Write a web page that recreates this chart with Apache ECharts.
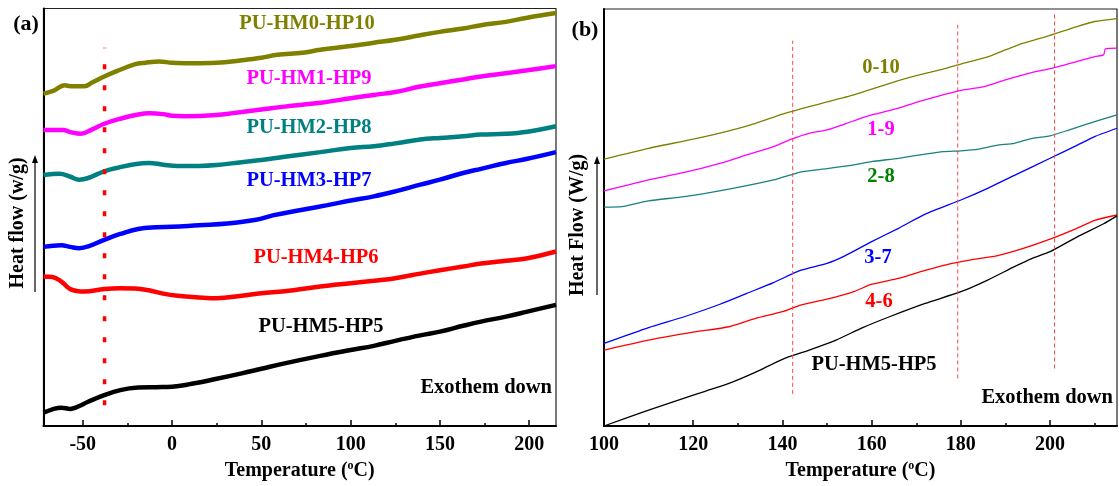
<!DOCTYPE html>
<html><head><meta charset="utf-8">
<script src="https://cdn.jsdelivr.net/npm/echarts@6/dist/echarts.min.js"></script>
<style>html,body{margin:0;padding:0;background:#fff}#c{width:1119px;height:486px}</style>
</head><body><div id="c"></div>
<script>
// ---------- data ----------
const namesA = ['PU-HM0-HP10','PU-HM1-HP9','PU-HM2-HP8','PU-HM3-HP7','PU-HM4-HP6','PU-HM5-HP5'];
const namesB = ['0-10','1-9','2-8','3-7','4-6','PU-HM5-HP5'];
const xTicksA = [-50,0,50,100,150,200];
const xMinorA = [-25,25,75,125,175];
const xTicksB = [100,120,140,160,180,200];
const xMinorB = [110,130,150,170,190,210];

// panel (a): [temperature, heat flow (arb.)]
const a_HM0 = [[-72,79.6],[-67,80.2],[-60,81.6],[-57,81.4],[-49,81.4],[-45,82.2],[-38,83.7],[-31,85.0],[-21,86.6],[-15,87.0],[-7,87.3],[0,87.0],[11,86.9],[25,87.0],[39,87.6],[50,88.2],[59,88.9],[73,89.4],[83,90.1],[100,91.0],[113,91.8],[125,92.5],[139,93.6],[150,94.4],[163,95.2],[173,96.0],[187,96.8],[199,97.8],[215,98.9]];
const a_HM1 = [[-72,70.9],[-61,70.9],[-57,70.4],[-51,70.0],[-45,71.0],[-38,72.4],[-29,73.6],[-19,74.6],[-13,74.9],[-5,74.7],[0,74.3],[7,74.2],[25,74.5],[39,75.2],[50,75.8],[63,76.5],[83,77.4],[100,78.5],[113,79.3],[125,80.0],[139,81.3],[150,82.1],[163,83.0],[173,83.7],[187,84.5],[199,85.2],[215,86.2]];
const a_HM2 = [[-72,60.1],[-63,60.4],[-57,59.7],[-52,59.0],[-47,59.4],[-38,61.0],[-29,62.0],[-21,62.7],[-13,63.0],[-5,62.6],[3,62.3],[15,62.3],[25,62.5],[39,63.2],[50,63.7],[63,64.5],[83,65.6],[100,66.6],[113,67.0],[125,67.7],[139,68.6],[150,69.0],[163,69.4],[173,69.8],[187,70.0],[199,70.5],[215,71.8]];
const a_HM3 = [[-72,42.9],[-62,43.3],[-57,42.9],[-52,42.6],[-47,43.0],[-38,44.6],[-29,46.0],[-19,47.2],[-9,47.6],[0,47.7],[15,48.1],[31,48.5],[47,49.4],[57,50.5],[73,51.8],[87,52.9],[100,54.0],[113,55.0],[125,56.2],[139,57.8],[150,59.0],[163,60.6],[173,61.6],[187,63.0],[199,64.0],[215,65.6]];
const a_HM4 = [[-72,35.8],[-67,35.7],[-62,34.6],[-57,32.8],[-49,32.2],[-38,32.8],[-29,33.0],[-19,32.9],[-13,32.5],[-5,31.7],[3,31.2],[15,30.8],[25,30.6],[39,31.2],[50,31.8],[63,32.3],[83,33.4],[100,34.2],[113,34.8],[125,35.4],[139,36.5],[150,37.3],[163,38.2],[173,38.9],[187,39.6],[199,40.2],[215,41.8]];
const a_HM5 = [[-72,3.2],[-67,4.0],[-62,4.4],[-57,4.1],[-54,4.4],[-47,5.8],[-38,7.4],[-29,8.6],[-19,9.2],[-9,9.3],[0,9.4],[11,10.1],[25,11.3],[39,12.6],[50,13.7],[63,15.0],[83,16.8],[100,18.2],[113,19.2],[125,20.4],[139,21.7],[150,22.6],[163,24.0],[173,25.0],[187,26.2],[199,27.4],[215,29.0]];

// panel (b)
const b_010 = [[100,64.0],[110,66.6],[120,68.8],[128,70.8],[134,72.6],[140,74.8],[146,76.6],[150,77.7],[156,79.4],[160,80.8],[166,82.8],[170,84.0],[176,85.6],[180,86.8],[186,88.5],[190,90.2],[194,91.8],[200,93.7],[206,95.8],[210,97.0],[215,97.7]];
const b_19 = [[100,56.4],[110,59.0],[118,60.8],[126,63.0],[132,65.0],[138,67.0],[142,68.8],[146,70.2],[150,71.0],[156,73.2],[160,74.6],[166,76.2],[170,77.6],[176,79.4],[180,80.5],[185,81.3],[190,83.0],[196,84.8],[200,85.7],[206,87.4],[210,88.6],[212,89.0],[212.4,90.4],[215,90.6]];
const b_28 = [[100,52.5],[104,52.6],[110,54.0],[118,55.0],[128,56.8],[138,59.0],[144,60.9],[150,61.7],[156,62.6],[160,63.4],[166,64.2],[172,65.2],[176,65.8],[180,66.0],[184,66.4],[188,67.3],[192,67.8],[196,69.0],[200,69.6],[204,70.9],[210,73.0],[215,74.6]];
const b_37 = [[100,19.8],[110,23.6],[118,26.2],[126,29.2],[132,31.8],[138,34.4],[144,37.3],[150,39.0],[154,40.8],[160,44.2],[166,47.4],[172,50.8],[180,54.2],[186,57.0],[192,60.1],[200,64.2],[206,67.3],[210,69.4],[215,71.4]];
const b_46 = [[100,18.2],[110,20.6],[120,22.5],[128,23.8],[134,25.8],[140,27.4],[144,29.0],[150,30.4],[156,32.2],[160,34.0],[166,35.4],[172,37.3],[178,39.0],[182,39.8],[188,40.8],[194,42.6],[200,44.8],[206,47.4],[210,49.3],[215,50.6]];
const b_55 = [[100,0.0],[110,3.8],[120,7.4],[128,10.2],[134,12.9],[140,16.0],[146,18.2],[152,20.6],[158,23.6],[164,26.2],[172,29.4],[180,32.2],[186,35.0],[192,38.2],[196,40.2],[200,41.8],[206,45.3],[212,48.5],[215,50.4]];

// guide lines
const guideA = [-37.8];
const guideALow = [5.0];
const guideAHigh = [90.6];
const guideB = [142.3, 179.3, 201];
const guideBLow = [7.7, 11.4, 13.8];
const guideBHigh = [92.4, 96.2, 98.9];

// ---------- styles ----------
const FF = '"Liberation Serif","Times New Roman",serif';
const colA = ['#808000','#FF00FF','#008080','#0000FF','#FF0000','#000000'];
const colB = ['#808000','#FF00FF','#1A8080','#0000FF','#FF0000','#000000'];
const labColB = ['#808000','#FF00FF','#008000','#0000FF','#FF0000','#000000'];
const LF = 'bold 20.5px ' + FF;

const chart = echarts.init(document.getElementById('c'));

function mainX(gi, min, max, ticks) {
  return {
    type:'value', gridIndex:gi, min:min, max:max, position:'bottom',
    splitLine:{show:false},
    axisLine:{show:true, onZero:false, lineStyle:{color:'#000', width:2}},
    axisTick:{show:true, inside:true, length:6, customValues:ticks, lineStyle:{color:'#000', width:1.5}},
    axisLabel:{show:true, customValues:ticks, margin:9, color:'#000', fontFamily:FF, fontWeight:'bold', fontSize:20},
    name:'Temperature ({sup|o}C)', nameLocation:'middle', nameGap:32,
    nameTextStyle:{color:'#000', fontFamily:FF, fontWeight:'bold', fontSize:20,
      rich:{sup:{fontFamily:FF, fontWeight:'bold', fontSize:12, color:'#000', padding:[0,0,10,0]}}}
  };
}
function minorX(gi, min, max, ticks) {
  return {
    type:'value', gridIndex:gi, min:min, max:max, position:'bottom',
    splitLine:{show:false},
    axisLine:{show:false, onZero:false},
    axisTick:{show:true, inside:true, length:3, customValues:ticks, lineStyle:{color:'#000', width:1.5}},
    axisLabel:{show:false}
  };
}
function yAx(gi) {
  return {
    type:'value', gridIndex:gi, min:0, max:100,
    splitLine:{show:false},
    axisLine:{show:true, onZero:false, lineStyle:{color:'#000', width:2}},
    axisTick:{show:false}, axisLabel:{show:false}
  };
}

const series = [];
const dataA = [a_HM0,a_HM1,a_HM2,a_HM3,a_HM4,a_HM5];
dataA.forEach((d,i)=>series.push({
  type:'line', name:namesA[i], xAxisIndex:0, yAxisIndex:0, data:d, smooth:0.4,
  showSymbol:false, lineStyle:{color:colA[i], width:4.5}, silent:true
}));
guideA.forEach((t,i)=>series.push({
  type:'line', xAxisIndex:0, yAxisIndex:0, data:[[t,guideALow[i]],[t,guideAHigh[i]]],
  showSymbol:false, silent:true,
  lineStyle:{color:'#FF0000', width:3.5, type:[5,16]}
}));
const dataB = [b_010,b_19,b_28,b_37,b_46,b_55];
dataB.forEach((d,i)=>series.push({
  type:'line', name:namesB[i], xAxisIndex:2, yAxisIndex:1, data:d, smooth:0.2,
  showSymbol:false, lineStyle:{color:colB[i], width:1.3}, silent:true
}));
guideB.forEach((t,i)=>series.push({
  type:'line', xAxisIndex:2, yAxisIndex:1, data:[[t,guideBLow[i]],[t,guideBHigh[i]]],
  showSymbol:false, silent:true,
  lineStyle:{color:'#FF4444', width:1, type:[4,3]}
}));

function txt(x,y,s,color){
  return {type:'text', x:x, y:y, z:100,
    style:{text:s, fill:color, font:LF, textAlign:'center', textVerticalAlign:'middle'}};
}
function arrow(x,y0,y1){
  return [
    {type:'line', shape:{x1:x,y1:y0,x2:x,y2:y1+6}, style:{stroke:'#000', lineWidth:1.2}, z:100},
    {type:'polygon', shape:{points:[[x,y1],[x-3,y1+8],[x+3,y1+8]]}, style:{fill:'#000'}, z:100}
  ];
}

const graphics = [
  {type:'text', x:26, y:24, z:100, style:{text:'(a)', fill:'#000', font:'bold 22px '+FF, textAlign:'center', textVerticalAlign:'middle'}},
  {type:'text', x:585, y:30, z:100, style:{text:'(b)', fill:'#000', font:'bold 22px '+FF, textAlign:'center', textVerticalAlign:'middle'}},
  {type:'text', x:18, y:223, rotation:Math.PI/2, z:100,
    style:{text:'Heat flow (w/g)', fill:'#000', font:'bold 20px '+FF, textAlign:'center', textVerticalAlign:'middle'}},
  {type:'text', x:578, y:225, rotation:Math.PI/2, z:100,
    style:{text:'Heat Flow (W/g)', fill:'#000', font:'bold 20px '+FF, textAlign:'center', textVerticalAlign:'middle'}},
  ...arrow(35,292,155),
  ...arrow(597,295,156),
  txt(307,24,namesA[0],colA[0]),
  txt(309,79,namesA[1],colA[1]),
  txt(309,128,namesA[2],colA[2]),
  txt(309,181,namesA[3],colA[3]),
  txt(316,258,namesA[4],colA[4]),
  txt(321,327,namesA[5],colA[5]),
  {type:'text', x:552, y:388, z:100, style:{text:'Exothem down', fill:'#000', font:LF, textAlign:'right', textVerticalAlign:'middle'}},
  txt(881,68,namesB[0],labColB[0]),
  txt(881,130,namesB[1],labColB[1]),
  txt(881,177,namesB[2],labColB[2]),
  txt(878,258,namesB[3],labColB[3]),
  txt(879,302,namesB[4],labColB[4]),
  txt(874,365,namesB[5],labColB[5]),
  {type:'text', x:1113, y:398, z:100, style:{text:'Exothem down', fill:'#000', font:LF, textAlign:'right', textVerticalAlign:'middle'}}
];

chart.setOption({
  animation:false,
  backgroundColor:'#fff',
  grid:[
    {left:43.5, top:8.5, width:512.5, height:417.5, show:true, borderColor:'#222', borderWidth:1.2, backgroundColor:'transparent'},
    {left:604, top:9, width:513, height:417, show:true, borderColor:'#222', borderWidth:1.2, backgroundColor:'transparent'}
  ],
  xAxis:[
    mainX(0,-72,215,xTicksA), minorX(0,-72,215,xMinorA),
    mainX(1,100,215,xTicksB), minorX(1,100,215,xMinorB)
  ],
  yAxis:[yAx(0), yAx(1)],
  series:series,
  graphic:graphics
});
</script>
</body></html>
